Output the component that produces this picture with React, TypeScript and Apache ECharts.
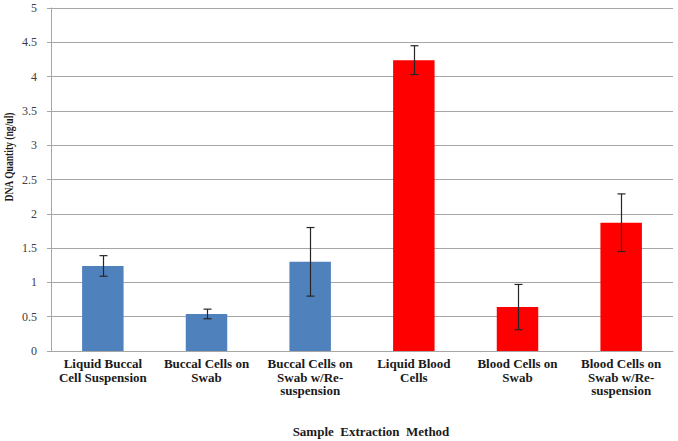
import React, { useEffect, useRef } from "react";
import * as echarts from "echarts";

const categories = [
  "Liquid Buccal\nCell Suspension",
  "Buccal Cells on\nSwab",
  "Buccal Cells on\nSwab w/Re-\nsuspension",
  "Liquid Blood\nCells",
  "Blood Cells on\nSwab",
  "Blood Cells on\nSwab w/Re-\nsuspension",
];
const values = [1.24, 0.54, 1.3, 4.24, 0.64, 1.87];
const errors = [0.15, 0.07, 0.5, 0.21, 0.33, 0.42];
const barColors = ["#4F81BD", "#4F81BD", "#4F81BD", "#FF0000", "#FF0000", "#FF0000"];
const yTicks = { min: 0, max: 5, interval: 0.5 };
const xTitle = "Sample  Extraction  Method";
const yTitle = "DNA Quantity (ng/ul)";

export default function App() {
  const ref = useRef<HTMLDivElement>(null);
  useEffect(() => {
    document.body.style.margin = "0";
    if (!ref.current) return;
    const chart = echarts.init(ref.current, null, { renderer: "svg", width: 678, height: 441 });
    const serif = "Liberation Serif";
    chart.setOption({
      animation: false,
      backgroundColor: "#ffffff",
      textStyle: { fontFamily: serif },
      grid: { left: 51, right: 5, top: 8, bottom: 90, outerBoundsMode: "none", containLabel: false },
      xAxis: {
        type: "category",
        data: categories,
        axisLine: { lineStyle: { color: "#a6a6a6", width: 1 } },
        axisTick: { show: false },
        axisLabel: {
          interval: 0,
          color: "#1a1a1a",
          fontFamily: serif,
          fontWeight: "bold",
          fontSize: 13,
          lineHeight: 13.5,
          margin: 6,
        },
        name: xTitle,
        nameLocation: "middle",
        nameGap: 74,
        nameTextStyle: { fontFamily: serif, fontWeight: "bold", fontSize: 13, color: "#1a1a1a", padding: [0, 0, 0, 18] },
      },
      yAxis: {
        type: "value",
        min: yTicks.min,
        max: yTicks.max,
        interval: yTicks.interval,
        axisLine: { show: true, lineStyle: { color: "#a6a6a6", width: 1 } },
        axisTick: { show: true, length: 4, lineStyle: { color: "#a6a6a6" } },
        splitLine: { lineStyle: { color: "#a6a6a6", width: 1 } },
        axisLabel: { color: "#404040", fontFamily: serif, fontSize: 12, margin: 14 },
      },
      graphic: [
        {
          type: "text",
          x: 9,
          y: 157,
          rotation: Math.PI / 2,
          scaleX: 0.8,
          style: {
            text: yTitle,
            fontFamily: serif,
            fontWeight: "bold",
            fontSize: 12,
            fill: "#1a1a1a",
            textAlign: "center",
            textVerticalAlign: "middle",
          },
        },
      ],
      series: [
        {
          type: "bar",
          barWidth: "40%",
          data: values.map((v, i) => ({ value: v, itemStyle: { color: barColors[i] } })),
        },
        {
          type: "custom",
          data: values.map((v, i) => [i, v - errors[i], v + errors[i]]),
          renderItem: (params: any, api: any) => {
            const x = api.value(0);
            const lo = api.coord([x, api.value(1)]);
            const hi = api.coord([x, api.value(2)]);
            const cx = Math.round(lo[0]) + 0.5;
            const style = { stroke: "#262626", lineWidth: 1.2 };
            return {
              type: "group",
              children: [
                { type: "line", shape: { x1: cx, y1: lo[1], x2: cx, y2: hi[1] }, style },
                { type: "line", shape: { x1: cx - 4, y1: lo[1], x2: cx + 4, y2: lo[1] }, style },
                { type: "line", shape: { x1: cx - 4, y1: hi[1], x2: cx + 4, y2: hi[1] }, style },
              ],
            };
          },
          z: 5,
        },
      ],
    });
    return () => chart.dispose();
  }, []);
  return <div ref={ref} style={{ width: 678, height: 441 }} />;
}
